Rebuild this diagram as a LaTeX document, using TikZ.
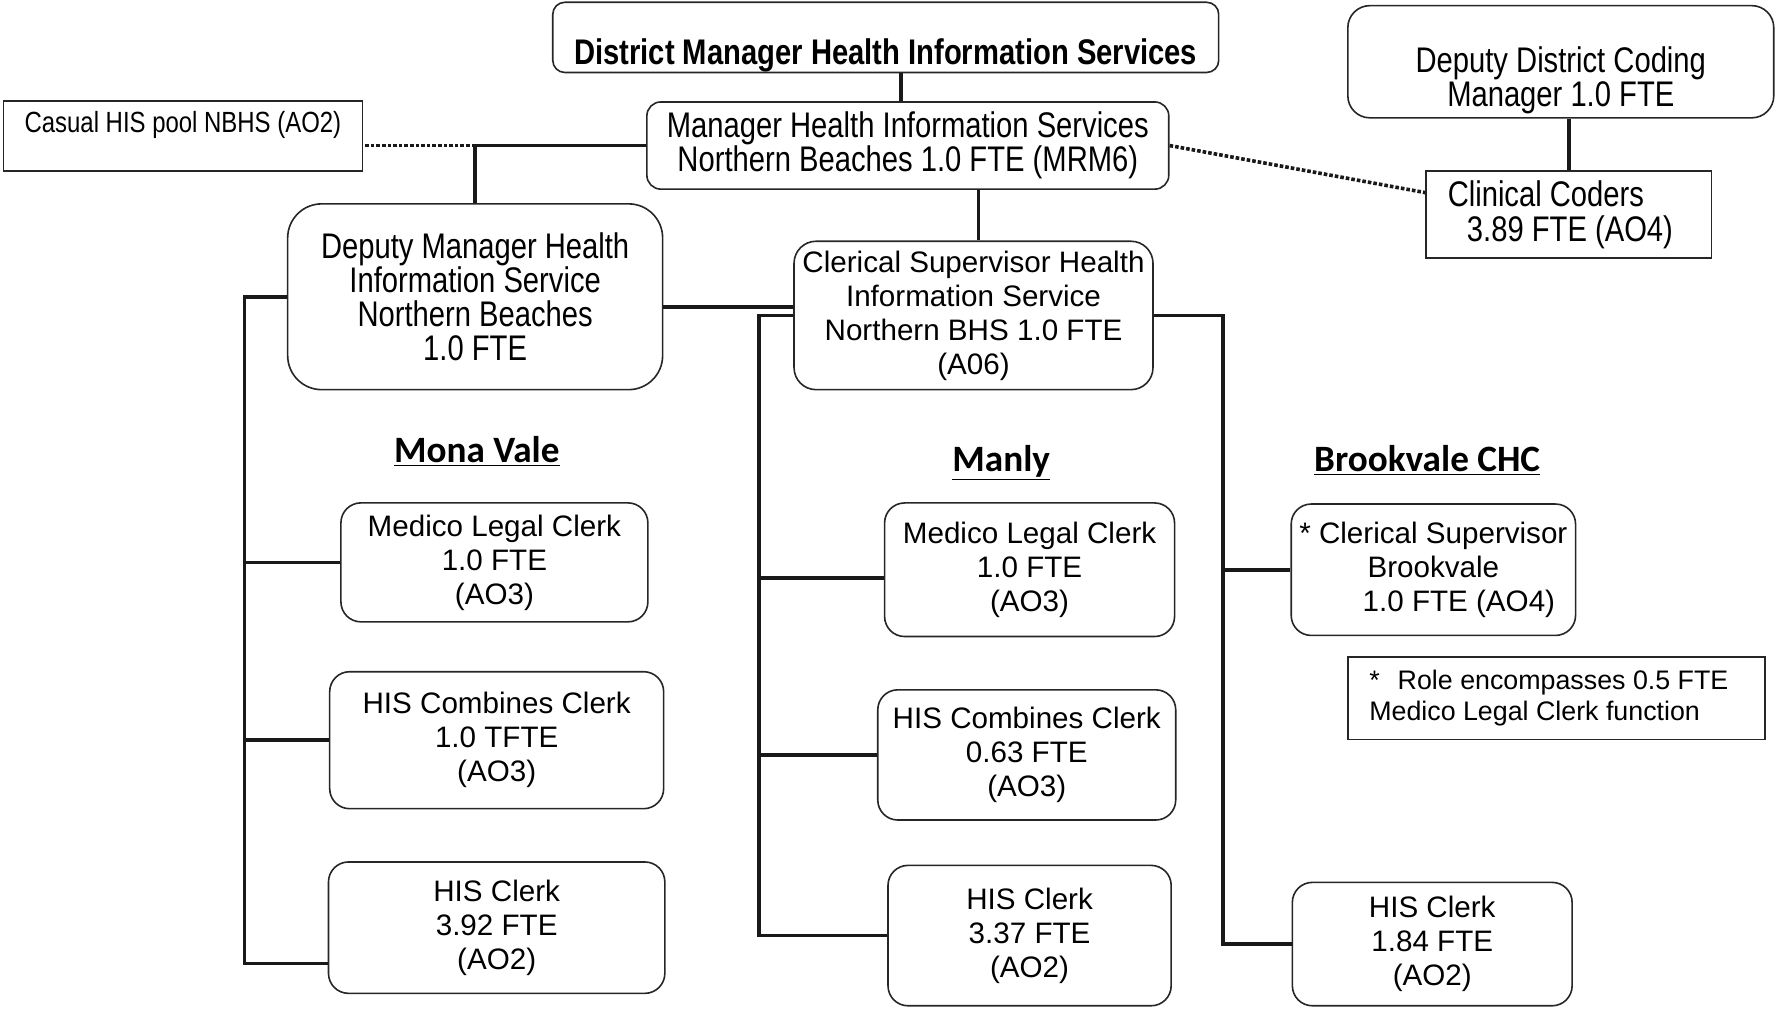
\documentclass[tikz,border=0pt]{standalone}
\usepackage{fontspec}
\setmainfont{Liberation Sans}
\newfontfamily\narrowfont{Liberation Sans}[FakeStretch=0.82]
\newfontfamily\headfont{Carlito}
\usetikzlibrary{positioning}

\begin{document}
\begin{tikzpicture}[x=0.5664pt, y=-0.5664pt,
	role/.style={draw=black!85, line width=0.8pt, rounded corners=10pt, align=center, inner sep=0pt, font=\fontsize{14.8}{17}\selectfont},
	toprole/.style={role, font=\narrowfont\fontsize{17.8}{17}\selectfont},
	plainrole/.style={draw=black!85, line width=0.8pt, inner sep=0pt},
	link/.style={line width=1.8pt, black!90},
	dotline/.style={line width=1.8pt, black!90, densely dotted},
	site/.style={font=\headfont\bfseries\fontsize{18.6}{20}\selectfont, anchor=base}]
	\useasboundingbox (0,0) rectangle (1568,890);
	\node[toprole, rounded corners=6pt, font=\narrowfont\bfseries\fontsize{17.8}{17}\selectfont, minimum width=333pt, text height=30.9pt, text depth=4.2pt] (dmhis) at (782,33) {District Manager Health Information Services};
	\node[toprole, rounded corners=7pt, minimum width=261pt, minimum height=43.6pt] (mhis) at (801.5,128.5) {Manager Health Information Services\\Northern Beaches 1.0 FTE (MRM6)};
	\node[plainrole, font=\narrowfont\fontsize{14.6}{17}\selectfont, minimum width=179.5pt, text height=15.9pt, text depth=19.3pt] (casual) at (161.5,120) {Casual HIS pool NBHS (AO2)};
	\node[toprole, rounded corners=11pt, minimum width=213pt] (ddcm) at (1378,54.5) {\rule{0pt}{33.4pt}Deputy District Coding\\Manager 1.0 FTE\rule[-5.7pt]{0pt}{5.7pt}};
	\node[plainrole, font=\narrowfont\fontsize{17.8}{17.5}\selectfont, text width=121pt, align=flush left, inner xsep=10.8pt, minimum height=43.6pt] (ccod) at (1385,189.5) {Clinical Coders\\\hspace*{9.6pt}3.89 FTE (AO4)};
	\node[toprole, rounded corners=17pt, minimum width=187.5pt, minimum height=92.9pt] (dmgr) at (419.5,262) {Deputy Manager Health\\Information Service\\Northern Beaches\\1.0 FTE};
	\node[role, rounded corners=11pt, minimum width=179.5pt, minimum height=74.2pt] (csup) at (859.5,278.5) {Clerical Supervisor Health\\Information Service\\Northern BHS 1.0 FTE\\(A06)};

	\node[site] (mv) at (421,408) {\underline{Mona Vale}};
	\node[site] (manly) at (884,416) {\underline{Manly}};
	\node[site] (brook) at (1260,416) {\underline{Brookvale CHC}};

	\node[role, minimum width=153.5pt, minimum height=59.5pt] (mvlegal) at (436.5,496.5) {Medico Legal Clerk\\1.0 FTE\\(AO3)};
	\node[role, minimum width=167pt, minimum height=68.5pt] (mvcomb) at (438.5,653.5) {HIS Combines Clerk\\1.0 TFTE\\(AO3)};
	\node[role, minimum width=168.2pt, minimum height=65.7pt] (mvclerk) at (438.5,819) {HIS Clerk\\3.92 FTE\\(AO2)};
	\node[role, minimum width=145pt, minimum height=66.8pt] (mlegal) at (909,503) {Medico Legal Clerk\\1.0 FTE\\(AO3)};
	\node[role, minimum width=149pt, minimum height=65.1pt] (mcomb) at (906.5,666.5) {HIS Combines Clerk\\0.63 FTE\\(AO3)};
	\node[role, minimum width=141.6pt, minimum height=70.2pt] (mclerk) at (909,826) {HIS Clerk\\3.37 FTE\\(AO2)};
	\node[role, minimum width=142.2pt, minimum height=65.7pt] (bsup) at (1265.5,503) {* Clerical Supervisor\\Brookvale\\\hspace*{25.5pt}1.0 FTE (AO4)};
	\node[role, minimum width=139.9pt, minimum height=61.7pt] (bclerk) at (1264.5,833.5) {HIS Clerk\\1.84 FTE\\(AO2)};
	\node[plainrole, font=\fontsize{13.4}{15.3}\selectfont, text width=187pt, align=flush left, inner xsep=10.8pt, minimum height=41.3pt] (note) at (1374,616.5) {*\hspace{9pt}Role encompasses 0.5 FTE\\Medico Legal Clerk function};

	\draw[link] ([xshift=-3.5pt]mhis.north) -- ([xshift=-3.5pt]mhis.north |- dmhis.south);
	\coordinate (pool) at (dmgr.north |- mhis.west);
	\draw[link] (mhis.west) -- (pool) -- (dmgr.north);
	\draw[dotline] (pool) -- (pool -| casual.east);
	\draw[link] ([xshift=2.5pt]csup.north) -- ([xshift=2.5pt]csup.north |- mhis.south);
	\draw[dotline] (mhis.east) -- ([yshift=11pt]ccod.west);
	\draw[link] (ccod.north) -- (ccod.north |- ddcm.south);
	\draw[link] ([yshift=-5pt]dmgr.east) -- ([yshift=-5pt]dmgr.east -| csup.west);

	\coordinate (mvbus) at (216,262);
	\draw[link] (dmgr.west) -- (mvbus) |- ([yshift=-18pt]mvclerk.west);
	\draw[link] (mvlegal.west) -- (mvlegal.west -| mvbus);
	\draw[link] (mvcomb.west) -- (mvcomb.west -| mvbus);

	\coordinate (mbus) at (670,278.5);
	\draw[link] (csup.west) -- (mbus) |- (mclerk.west);
	\draw[link] ([yshift=-4pt]mlegal.west) -- ([yshift=-4pt]mlegal.west -| mbus);
	\draw[link] (mcomb.west) -- (mcomb.west -| mbus);

	\coordinate (bbus) at (1080,278.5);
	\draw[link] (csup.east) -- (bbus) |- (bclerk.west);
	\draw[link] (bsup.west) -- (bsup.west -| bbus);
\end{tikzpicture}
\end{document}
